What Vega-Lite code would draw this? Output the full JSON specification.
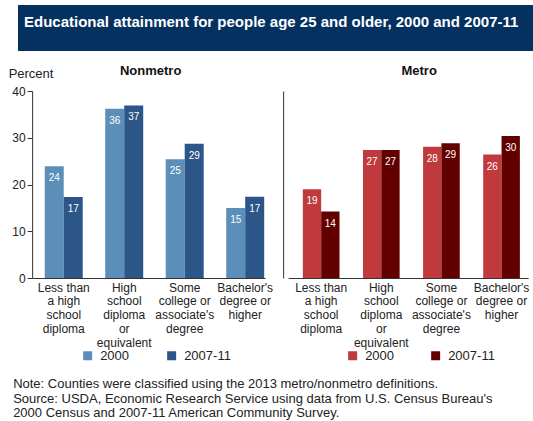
{
  "$schema": "https://vega.github.io/schema/vega-lite/v6.json",
  "padding": {"left": 8, "top": 5, "right": 0, "bottom": 0},
  "background": "white",
  "config": {
    "font": "Liberation Sans",
    "view": {"stroke": null},
    "axis": {"labelFont": "Liberation Sans", "titleFont": "Liberation Sans", "labelColor": "#222", "titleColor": "#222", "domainColor": "#333", "tickColor": "#333", "grid": false, "labelFontSize": 12},
    "legend": {"labelFont": "Liberation Sans", "labelFontSize": 13, "labelColor": "#222", "symbolType": "square", "symbolSize": 81, "symbolStrokeWidth": 0, "labelOffset": 6, "direction": "horizontal", "orient": "none", "title": null},
    "title": {"font": "Liberation Sans"}
  },
  "datasets": {
    "edu": [
      {"area": "Nonmetro", "level": "Less than a high school diploma", "year": "2000", "pct": 23.9},
      {"area": "Nonmetro", "level": "Less than a high school diploma", "year": "2007-11", "pct": 17.3},
      {"area": "Nonmetro", "level": "High school diploma or equivalent", "year": "2000", "pct": 36.2},
      {"area": "Nonmetro", "level": "High school diploma or equivalent", "year": "2007-11", "pct": 36.9},
      {"area": "Nonmetro", "level": "Some college or associate's degree", "year": "2000", "pct": 25.4},
      {"area": "Nonmetro", "level": "Some college or associate's degree", "year": "2007-11", "pct": 28.7},
      {"area": "Nonmetro", "level": "Bachelor's degree or higher", "year": "2000", "pct": 15.0},
      {"area": "Nonmetro", "level": "Bachelor's degree or higher", "year": "2007-11", "pct": 17.4},
      {"area": "Metro", "level": "Less than a high school diploma", "year": "2000", "pct": 19.0},
      {"area": "Metro", "level": "Less than a high school diploma", "year": "2007-11", "pct": 14.2},
      {"area": "Metro", "level": "High school diploma or equivalent", "year": "2000", "pct": 27.4},
      {"area": "Metro", "level": "High school diploma or equivalent", "year": "2007-11", "pct": 27.4},
      {"area": "Metro", "level": "Some college or associate's degree", "year": "2000", "pct": 28.1},
      {"area": "Metro", "level": "Some college or associate's degree", "year": "2007-11", "pct": 28.8},
      {"area": "Metro", "level": "Bachelor's degree or higher", "year": "2000", "pct": 26.4},
      {"area": "Metro", "level": "Bachelor's degree or higher", "year": "2007-11", "pct": 30.4}
    ]
  },
  "title": {
    "text": ["Note: Counties were classified using the 2013 metro/nonmetro definitions.", "Source: USDA, Economic Research Service using data from U.S. Census Bureau's", "2000 Census and 2007-11 American Community Survey."],
    "orient": "bottom", "anchor": "start", "frame": "bounds", "fontSize": 13, "fontWeight": "normal", "color": "#222", "lineHeight": 14.5, "offset": 15, "dx": 5
  },
  "spacing": 14,
  "center": true,
  "vconcat": [
    {
      "width": 525, "height": 46,
      "view": {"fill": "#04315f", "stroke": null},
      "title": {"text": "Educational attainment for people age 25 and older, 2000 and 2007-11", "color": "white", "fontSize": 15, "fontWeight": "bold", "anchor": "start", "frame": "group", "offset": -25, "dx": 6},
      "data": {"values": [{"k": 1}]},
      "mark": {"type": "rect", "color": "#04315f"},
      "encoding": {}
    },
    {
      "spacing": 10,
      "resolve": {"scale": {"color": "independent", "x": "independent", "y": "independent", "xOffset": "independent"}, "legend": {"color": "independent"}},
      "hconcat": [
        {
          "width": 233, "height": 187,
          "title": {"text": "Nonmetro", "fontSize": 13, "fontWeight": "bold", "color": "#111", "offset": -11, "anchor": "middle", "frame": "group", "dx": 2},
          "data": {"name": "edu"},
          "transform": [{"filter": "datum.area == 'Nonmetro'"}],
          "encoding": {
            "x": {"field": "level", "type": "nominal", "sort": ["Less than a high school diploma", "High school diploma or equivalent", "Some college or associate's degree", "Bachelor's degree or higher"],
                  "scale": {"paddingInner": 0.372, "paddingOuter": 0.112, "align": 0.93},
                  "axis": {"title": null, "labelAngle": 0, "ticks": false, "labelLineHeight": 13.75, "labelPadding": 4,
                           "labelExpr": "datum.value == 'Less than a high school diploma' ? ['Less than','a high','school','diploma'] : datum.value == 'High school diploma or equivalent' ? ['High','school','diploma','or','equivalent'] : indexof(datum.value, 'Some') == 0 ? ['Some','college or',\"associate's\",'degree'] : [\"Bachelor's\",'degree or','higher']"}},
            "xOffset": {"field": "year", "type": "nominal", "sort": ["2000", "2007-11"], "scale": {"paddingInner": 0, "paddingOuter": 0}},
            "y": {"field": "pct", "type": "quantitative", "scale": {"domain": [0, 40], "nice": false},
                  "axis": {"values": [0, 10, 20, 30, 40], "title": "Percent", "titleAngle": 0, "titleAlign": "left", "titleBaseline": "alphabetic", "titleX": -24, "titleY": -14, "titleFontSize": 13, "titleFontWeight": "normal", "tickSize": 5, "labelPadding": 2}}
          },
          "layer": [
            {"mark": {"type": "bar"},
             "encoding": {"color": {"field": "year", "type": "nominal", "scale": {"domain": ["2000", "2007-11"], "range": ["#5b8fba", "#2c5588"]},
                                    "legend": {"legendX": 49, "legendY": 258, "columnPadding": 36}}}},
            {"mark": {"type": "text", "color": "white", "fontSize": 10, "baseline": "middle", "dy": 12},
             "encoding": {"text": {"field": "pct", "type": "quantitative", "format": ".0f"}}}
          ]
        },
        {
          "width": 240, "height": 187,
          "title": {"text": "Metro", "fontSize": 13, "fontWeight": "bold", "color": "#111", "offset": 13, "anchor": "middle", "frame": "group", "dx": 11},
          "data": {"name": "edu"},
          "transform": [{"filter": "datum.area == 'Metro'"}],
          "encoding": {
            "x": {"field": "level", "type": "nominal", "sort": ["Less than a high school diploma", "High school diploma or equivalent", "Some college or associate's degree", "Bachelor's degree or higher"],
                  "scale": {"paddingInner": 0.39, "paddingOuter": 0.191, "align": 0.64},
                  "axis": {"title": null, "labelAngle": 0, "ticks": false, "labelLineHeight": 13.75, "labelPadding": 4,
                           "labelExpr": "datum.value == 'Less than a high school diploma' ? ['Less than','a high','school','diploma'] : datum.value == 'High school diploma or equivalent' ? ['High','school','diploma','or','equivalent'] : indexof(datum.value, 'Some') == 0 ? ['Some','college or',\"associate's\",'degree'] : [\"Bachelor's\",'degree or','higher']"}},
            "xOffset": {"field": "year", "type": "nominal", "sort": ["2000", "2007-11"], "scale": {"paddingInner": 0, "paddingOuter": 0}},
            "y": {"field": "pct", "type": "quantitative", "scale": {"domain": [0, 40], "nice": false},
                  "axis": {"title": null, "labels": false, "ticks": false, "domain": true, "offset": 5}}
          },
          "layer": [
            {"mark": {"type": "bar"},
             "encoding": {"color": {"field": "year", "type": "nominal", "scale": {"domain": ["2000", "2007-11"], "range": ["#c0393d", "#620000"]},
                                    "legend": {"legendX": 58, "legendY": 258, "columnPadding": 35}}}},
            {"mark": {"type": "text", "color": "white", "fontSize": 10, "baseline": "middle", "dy": 12},
             "encoding": {"text": {"field": "pct", "type": "quantitative", "format": ".0f"}}}
          ]
        }
      ]
    }
  ]
}
